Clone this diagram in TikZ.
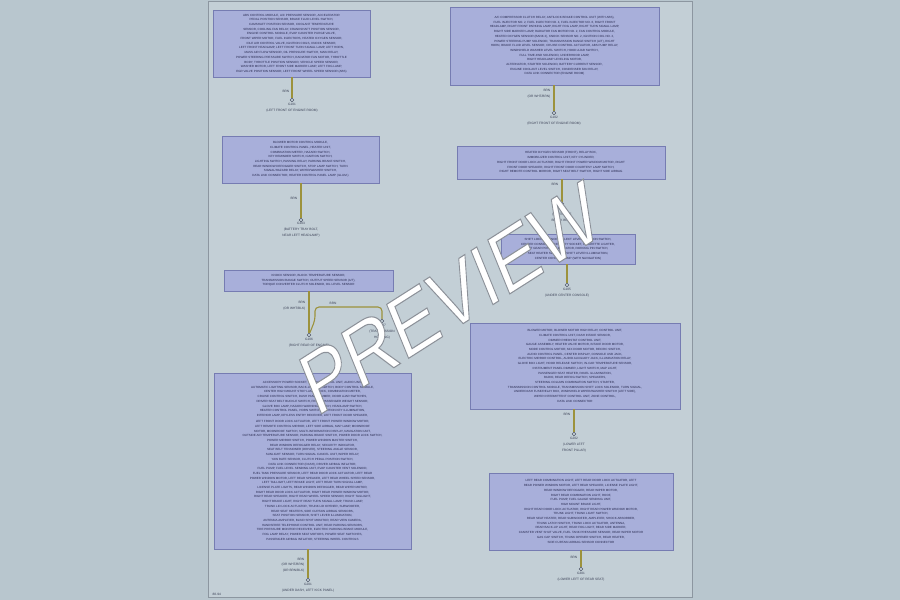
\documentclass[tikz,border=0pt]{standalone}
\usepackage{fontspec}
\setmainfont{Liberation Sans}
\definecolor{bgouter}{RGB}{184,198,206}
\definecolor{bgpage}{RGB}{195,207,214}
\definecolor{pageline}{RGB}{140,150,160}
\definecolor{boxfill}{RGB}{168,175,218}
\definecolor{boxline}{RGB}{118,124,178}
\definecolor{boxtext}{RGB}{38,40,78}
\definecolor{wirecol}{RGB}{156,146,60}
\definecolor{lbltext}{RGB}{58,64,86}
\newcommand{\outlinetext}[1]{\color{white}\special{pdf:literal direct 2 Tr 1.1 w 0.55 0.57 0.6 RG}#1\special{pdf:literal direct 0 Tr}}
\begin{document}
\begin{tikzpicture}[x=1pt,y=-1pt,
    box/.style={draw=boxline, fill=boxfill, line width=0.6pt, inner sep=0pt,
      text=boxtext, font=\fontsize{3.0}{4.7}\selectfont, align=center},
    wire/.style={draw=wirecol, line width=1.1pt},
    gnd/.style={circle, draw=lbltext, fill=bgpage, line width=0.4pt,
      inner sep=0pt, minimum size=3.6pt},
    lbl/.style={text=lbltext, font=\fontsize{3.2}{5.6}\selectfont,
      align=center, inner sep=0.5pt},
    wlbl/.style={lbl, anchor=east, align=right},
    wmark/.style={font=\fontsize{88}{88}\selectfont, xscale=0.8, rotate=27,
      inner sep=0pt}]
  \useasboundingbox (0,0) rectangle (900,600);
  \fill[bgouter] (0,0) rectangle (900,600);
  \draw[pageline, fill=bgpage, line width=0.5pt] (208,1) rectangle (692,597);

  % engine room, left
  \node[box, minimum width=157pt, minimum height=67pt] (b1) at (291.5,43.5) {%
    ABS CONTROL MODULE, A/C PRESSURE SENSOR, ACCELERATOR\\
    PEDAL POSITION SENSOR, BRAKE FLUID LEVEL SWITCH,\\
    CAMSHAFT POSITION SENSOR, COOLANT TEMPERATURE\\
    SENSOR, COOLING FAN RELAY, CRANKSHAFT POSITION SENSOR,\\
    ENGINE CONTROL MODULE, EVAP CANISTER PURGE VALVE,\\
    FRONT WIPER MOTOR, FUEL INJECTORS, HEATED OXYGEN SENSOR,\\
    IDLE AIR CONTROL VALVE, IGNITION COILS, KNOCK SENSOR,\\
    LEFT FRONT HEADLAMP, LEFT FRONT TURN SIGNAL LAMP, LEFT HORN,\\
    MASS AIR FLOW SENSOR, OIL PRESSURE SWITCH, MAIN RELAY,\\
    POWER STEERING PRESSURE SWITCH, RADIATOR FAN MOTOR, THROTTLE\\
    BODY, THROTTLE POSITION SENSOR, VEHICLE SPEED SENSOR,\\
    WASHER MOTOR, LEFT FRONT SIDE MARKER LAMP, LEFT FOG LAMP,\\
    EGR VALVE POSITION SENSOR, LEFT FRONT WHEEL SPEED SENSOR (ABS)};
  \node[gnd] (g1) at (292,100) {};
  \node[lbl, anchor=north] (t1) at (292,103) {G101\\(LEFT FRONT OF ENGINE ROOM)};
  \draw[wire] (b1.south -| g1) -- (g1);
  \node[wlbl] (w1) at (290,91) {BRN};

  % engine room, right
  \node[box, minimum width=209pt, minimum height=78pt] (b2) at (554.5,46) {%
    A/C COMPRESSOR CLUTCH RELAY, ANTILOCK BRAKE CONTROL UNIT (WITH ABS),\\
    FUEL INJECTOR NO. 2, FUEL INJECTOR NO. 4, FUEL INJECTOR NO. 6, RIGHT FRONT\\
    HEADLAMP, RIGHT FRONT PARKING LAMP, RIGHT FOG LAMP, RIGHT TURN SIGNAL LAMP,\\
    RIGHT SIDE MARKER LAMP, RADIATOR FAN MOTOR NO. 2, FAN CONTROL MODULE,\\
    HEATED OXYGEN SENSOR (BANK 2), KNOCK SENSOR NO. 2, IGNITION COIL NO. 2,\\
    POWER STEERING PUMP SOLENOID, TRANSMISSION RANGE SWITCH (A/T), RIGHT\\
    HORN, BRAKE FLUID LEVEL SENSOR, CRUISE CONTROL ACTUATOR, ABS PUMP RELAY,\\
    WINDSHIELD WASHER LEVEL SWITCH, HOOD AJAR SWITCH,\\
    FULL TIME 4WD SOLENOID, UNDERHOOD LAMP,\\
    RIGHT HEADLAMP LEVELING MOTOR,\\
    ALTERNATOR, STARTER SOLENOID, BATTERY CURRENT SENSOR,\\
    ENGINE COOLANT LEVEL SWITCH, CONDENSER FAN RELAY,\\
    DATA LINK CONNECTOR (ENGINE ROOM)};
  \node[gnd] (g2) at (554,113) {};
  \node[lbl, anchor=north] (t2) at (554,116) {G102\\(RIGHT FRONT OF ENGINE ROOM)};
  \draw[wire] (b2.south -| g2) -- (g2);
  \node[wlbl] (w2) at (551,94) {BRN\\(OR WHT/BRN)};

  % dash, left
  \node[box, minimum width=157pt, minimum height=47pt] (b3) at (300.5,159.5) {%
    BLOWER MOTOR CONTROL MODULE,\\
    CLIMATE CONTROL PANEL, HEATER UNIT,\\
    COMBINATION METER, HAZARD SWITCH,\\
    KEY REMINDER SWITCH, IGNITION SWITCH,\\
    LIGHTING SWITCH, PASSING RELAY, PARKING BRAKE SWITCH,\\
    REAR WINDOW DEFOGGER SWITCH, STOP LAMP SWITCH, TURN\\
    SIGNAL/HAZARD RELAY, WIPER/WASHER SWITCH,\\
    DATA LINK CONNECTOR, HEATER CONTROL PANEL LAMP (ILLUM.)};
  \node[gnd] (g3) at (301,220) {};
  \node[lbl, anchor=north] (t3) at (301,222) {G103\\(BATTERY TRAY BOLT,\\NEAR LEFT HEADLAMP)};
  \draw[wire] (b3.south -| g3) -- (g3);
  \node[wlbl] (w3) at (298,198) {BRN};

  % right front door
  \node[box, minimum width=208pt, minimum height=33pt] (b4) at (561,162.5) {%
    HEATED OXYGEN SENSOR (FRONT), RELAY BOX,\\
    IMMOBILIZER CONTROL UNIT, KEY CYLINDER,\\
    RIGHT FRONT DOOR LOCK ACTUATOR, RIGHT FRONT POWER WINDOW MOTOR, RIGHT\\
    FRONT DOOR SPEAKER, RIGHT FRONT DOOR COURTESY LAMP SWITCH,\\
    RIGHT REMOTE CONTROL MIRROR, RIGHT SEAT BELT SWITCH, RIGHT SIDE AIRBAG};
  \node[gnd] (g4) at (562,204) {};
  \node[lbl, anchor=north] (t4) at (562,207) {G104\\(ON ENGINE\\BLOCK BOLT)};
  \draw[wire] (b4.south -| g4) -- (g4);
  \node[wlbl] (w4) at (559,184) {BRN};

  % center console
  \node[box, minimum width=134pt, minimum height=30pt] (b5) at (568,249) {%
    SHIFT LOCK SOLENOID, SELECT LEVER POSITION SWITCH,\\
    CENTER CONSOLE ACCESSORY SOCKET, CIGARETTE LIGHTER,\\
    A/T GEAR POSITION INDICATOR, PARKING PIN SWITCH,\\
    SEAT HEATER SWITCHES, SHIFT LEVER ILLUMINATION,\\
    CENTER CONSOLE LAMP (WITH NAVIGATION)};
  \node[gnd] (g5) at (567,285) {};
  \node[lbl, anchor=north] (t5) at (567,288) {G105\\(UNDER CENTER CONSOLE)};
  \draw[wire] (b5.south -| g5) -- (g5);

  % transmission
  \node[box, minimum width=169pt, minimum height=21pt] (b6) at (308.5,280.5) {%
    KNOCK SENSOR, BLOCK TEMPERATURE SENSOR,\\
    TRANSMISSION RANGE SWITCH, OUTPUT SPEED SENSOR (A/T),\\
    TORQUE CONVERTER CLUTCH SOLENOID, OIL LEVEL SENSOR};
  \node[gnd] (g6) at (309,335) {};
  \node[lbl, anchor=north] (t6) at (309,338) {G106\\(RIGHT REAR OF ENGINE)};
  \draw[wire] (b6.south -| g6) -- (g6);
  \node[wlbl] (w6) at (306,306) {BRN\\(OR WHT/BLK)};
  \node[gnd] (g6b) at (382,321) {};
  \node[lbl, anchor=north] (t6b) at (382,324) {G107\\(TRANSMISSION\\HOUSING)};
  \coordinate (bend) at (315,307);
  \draw[wire, rounded corners=4pt] (g6) -- (315,320) -- (bend) -- (bend -| g6b) -- (g6b);
  \node[lbl, anchor=south] (w6b) at (333,305.5) {BRN};

  % passenger compartment
  \node[box, minimum width=197pt, minimum height=176pt] (b7) at (312.5,461) {%
    ACCESSORY POWER SOCKET, AIRBAG CONTROL UNIT, AUDIO UNIT,\\
    AUTOMATIC LIGHTING SENSOR, BACK-UP LAMP SWITCH, BODY CONTROL MODULE,\\
    CENTER HIGH MOUNT STOP LAMP, CLOCK, COMBINATION METER,\\
    CRUISE CONTROL SWITCH, DASH PANEL DIMMER, DOOR AJAR SWITCHES,\\
    DRIVER SEAT BELT BUCKLE SWITCH, FRONT PASSENGER WEIGHT SENSOR,\\
    GLOVE BOX LAMP, HAZARD WARNING SWITCH, HEADLAMP SWITCH,\\
    HEATER CONTROL PANEL, HORN SWITCH, IGNITION KEY ILLUMINATION,\\
    INTERIOR LAMP, KEYLESS ENTRY RECEIVER, LEFT FRONT DOOR SPEAKER,\\[1.6pt]
    LEFT FRONT DOOR LOCK ACTUATOR, LEFT FRONT POWER WINDOW MOTOR,\\
    LEFT REMOTE CONTROL MIRROR, LEFT SIDE AIRBAG, MAP LAMP, MOONROOF\\
    MOTOR, MOONROOF SWITCH, MULTI-INFORMATION DISPLAY, NAVIGATION UNIT,\\
    OUTSIDE AIR TEMPERATURE SENSOR, PARKING BRAKE SWITCH, POWER DOOR LOCK SWITCH,\\
    POWER MIRROR SWITCH, POWER WINDOW MASTER SWITCH,\\
    REAR WINDOW DEFOGGER RELAY, SECURITY INDICATOR,\\
    SEAT BELT TENSIONER (DRIVER), STEERING ANGLE SENSOR,\\
    SUNLIGHT SENSOR, TURN SIGNAL CANCEL UNIT, WIPER RELAY,\\
    YAW RATE SENSOR, CLUTCH PEDAL POSITION SWITCH,\\
    DATA LINK CONNECTOR (DASH), DRIVER AIRBAG INFLATOR,\\
    FUEL PUMP, FUEL LEVEL SENDING UNIT, EVAP CANISTER VENT SOLENOID,\\
    FUEL TANK PRESSURE SENSOR, LEFT REAR DOOR LOCK ACTUATOR, LEFT REAR\\
    POWER WINDOW MOTOR, LEFT REAR SPEAKER, LEFT REAR WHEEL SPEED SENSOR,\\
    LEFT TAILLIGHT, LEFT BRAKE LIGHT, LEFT REAR TURN SIGNAL LAMP,\\
    LICENSE PLATE LIGHTS, REAR WINDOW DEFOGGER, REAR WIPER MOTOR,\\
    RIGHT REAR DOOR LOCK ACTUATOR, RIGHT REAR POWER WINDOW MOTOR,\\
    RIGHT REAR SPEAKER, RIGHT REAR WHEEL SPEED SENSOR, RIGHT TAILLIGHT,\\
    RIGHT BRAKE LIGHT, RIGHT REAR TURN SIGNAL LAMP, TRUNK LAMP,\\
    TRUNK LID LOCK ACTUATOR, TRUNK LID OPENER, SUBWOOFER,\\
    REAR SEAT HEATERS, SIDE CURTAIN AIRBAG SENSORS,\\
    SEAT POSITION SENSOR, SHIFT LEVER ILLUMINATION,\\
    ANTENNA AMPLIFIER, BLIND SPOT MONITOR, REAR VIEW CAMERA,\\
    HANDSFREE TELEPHONE CONTROL UNIT, REAR PARKING SENSORS,\\
    TIRE PRESSURE MONITOR RECEIVER, ELECTRIC PARKING BRAKE MODULE,\\
    FOG LAMP RELAY, POWER SEAT MOTORS, POWER SEAT SWITCHES,\\
    PASSENGER AIRBAG INFLATOR, STEERING WHEEL CONTROLS};
  \node[gnd] (g7) at (308,580) {};
  \node[lbl, anchor=north] (t7) at (308,583) {G201\\(UNDER DASH, LEFT KICK PANEL)};
  \draw[wire] (b7.south -| g7) -- (g7);
  \node[wlbl] (w7) at (305,565) {BRN\\(OR WHT/BRN)\\(OR BRN/BLK)};
  \node[lbl, anchor=west] (pg) at (212,594) {88-94};

  % dash, right
  \node[box, minimum width=210pt, minimum height=86pt] (b8) at (575,366) {%
    BLOWER MOTOR, BLOWER MOTOR HIGH RELAY, CONTROL UNIT,\\
    CLIMATE CONTROL UNIT, DASH INTAKE SENSOR,\\
    DIMMER RHEOSTAT CONTROL UNIT,\\
    GAUGE ASSEMBLY, HEATER VALVE MOTOR, INTAKE DOOR MOTOR,\\
    MODE CONTROL MOTOR, MIX DOOR MOTOR, RECIRC SWITCH,\\
    AUDIO CONTROL PANEL, CENTER DISPLAY, CONSOLE USB JACK,\\
    ELECTRIC MIRROR CONTROL, AUDIO AUXILIARY JACK, ILLUMINATION RELAY,\\
    GLOVE BOX LIGHT, HOOD RELEASE SWITCH, IN-CAR TEMPERATURE SENSOR,\\
    INSTRUMENT PANEL DIMMER, LIGHT SWITCH, MAP LIGHT,\\
    PASSENGER SEAT HEATER, PANEL ILLUMINATION,\\
    RADIO, REAR DEFOG SWITCH, SPEAKERS,\\
    STEERING COLUMN COMBINATION SWITCH, STARTER,\\
    TRANSMISSION CONTROL MODULE, TRANSMISSION SHIFT LOCK SOLENOID, TURN SIGNAL,\\
    UNDERDASH FUSE/RELAY BOX, WINDSHIELD WIPER/WASHER SWITCH (LEFT SIDE),\\
    WIPER INTERMITTENT CONTROL UNIT, ZONE CONTROL,\\
    DATA LINK CONNECTOR};
  \node[gnd] (g8) at (574,434) {};
  \node[lbl, anchor=north] (t8) at (574,437) {G202\\(LOWER LEFT\\FRONT PILLAR)};
  \draw[wire] (b8.south -| g8) -- (g8);
  \node[wlbl] (w8) at (571,414) {BRN};

  % rear
  \node[box, minimum width=184pt, minimum height=77pt] (b9) at (581,511.5) {%
    LEFT REAR COMBINATION LIGHT, LEFT REAR DOOR LOCK ACTUATOR, LEFT\\
    REAR POWER WINDOW MOTOR, LEFT REAR SPEAKER, LICENSE PLATE LIGHT,\\
    REAR WINDOW DEFOGGER, REAR WIPER MOTOR,\\
    RIGHT REAR COMBINATION LIGHT, ROOF,\\
    FUEL PUMP, FUEL GAUGE SENDING UNIT,\\
    HIGH MOUNT BRAKE LIGHT,\\
    RIGHT REAR DOOR LOCK ACTUATOR, RIGHT REAR POWER WINDOW MOTOR,\\
    TRUNK LIGHT, TRUNK LIGHT SWITCH,\\
    REAR SEAT HEATER, REAR SUBWOOFER, AMPLIFIER, SHOCK ABSORBER,\\
    TRUNK LATCH SWITCH, TRUNK LOCK ACTUATOR, ANTENNA,\\
    REAR BACK-UP LIGHT, REAR FOG LIGHT, REAR SIDE MARKER,\\
    CANISTER VENT SHUT VALVE, FUEL TANK PRESSURE SENSOR, REAR WIPER MOTOR\\
    GAS CAP SWITCH, TRUNK OPENER SWITCH, REAR HEATER,\\
    SIDE CURTAIN AIRBAG SENSOR CONNECTOR};
  \node[gnd] (g9) at (581,569) {};
  \node[lbl, anchor=north] (t9) at (581,572) {G301\\(LOWER LEFT OF REAR SEAT)};
  \draw[wire] (b9.south -| g9) -- (g9);
  \node[wlbl] (w9) at (578,557) {BRN};

  % watermark
  \node[wmark] (wm) at (450,298) {\outlinetext{PREVIEW}};
\end{tikzpicture}
\end{document}
